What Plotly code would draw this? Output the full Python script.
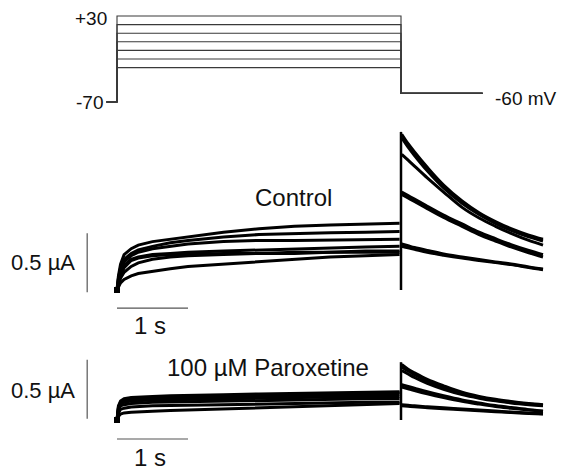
import plotly.graph_objects as go

# ---------------- data ----------------
# voltage protocol (mV)
step_levels = [30, 20, 10, 0, -10, -20, -30]
hold_v = -70
tail_v = -60
t_protocol = [-0.15, 0.0, 0.0, 4.0, 4.0, 5.15]

# current time base (s)
t_step = [0.0, 0.02, 0.05, 0.1, 0.2, 0.3, 0.5, 0.75, 1.0, 1.5, 2.0, 2.5, 3.0, 3.5, 3.98]
t_artifact = 4.0
t_tail = [4.01, 4.1, 4.19, 4.37, 4.6, 4.86, 5.1, 5.33, 5.55, 5.8, 6.0]
artifact_current = 0.0

# Control currents (uA): step part and tail part
ctrl_step = [
    [0, 0.12, 0.22, 0.30, 0.35, 0.38, 0.41, 0.43, 0.45, 0.49, 0.52, 0.54, 0.55, 0.56, 0.565],
    [0, 0.10, 0.19, 0.26, 0.31, 0.34, 0.37, 0.40, 0.42, 0.45, 0.47, 0.48, 0.485, 0.49, 0.495],
    [0, 0.09, 0.17, 0.24, 0.29, 0.32, 0.35, 0.37, 0.39, 0.41, 0.42, 0.42, 0.425, 0.43, 0.43],
    [0, 0.07, 0.14, 0.21, 0.26, 0.28, 0.30, 0.31, 0.32, 0.33, 0.34, 0.35, 0.36, 0.365, 0.37],
    [0, 0.06, 0.12, 0.19, 0.25, 0.27, 0.29, 0.30, 0.30, 0.31, 0.31, 0.32, 0.32, 0.33, 0.33],
    [0, 0.05, 0.10, 0.15, 0.20, 0.23, 0.26, 0.28, 0.29, 0.30, 0.31, 0.31, 0.32, 0.32, 0.32],
    [0, 0.03, 0.06, 0.09, 0.12, 0.14, 0.16, 0.18, 0.20, 0.22, 0.24, 0.26, 0.28, 0.29, 0.30],
]
ctrl_tail = [
    [1.32, 1.24, 1.17, 1.04, 0.89, 0.755, 0.655, 0.58, 0.52, 0.465, 0.43],
    [1.29, 1.21, 1.14, 1.01, 0.865, 0.735, 0.64, 0.565, 0.505, 0.45, 0.415],
    [1.15, 1.10, 1.05, 0.95, 0.83, 0.70, 0.61, 0.54, 0.48, 0.42, 0.38],
    [0.83, 0.80, 0.77, 0.71, 0.635, 0.56, 0.49, 0.435, 0.385, 0.335, 0.30],
    [0.81, 0.78, 0.75, 0.69, 0.615, 0.54, 0.47, 0.415, 0.365, 0.315, 0.28],
    [0.39, 0.375, 0.36, 0.335, 0.305, 0.28, 0.258, 0.238, 0.22, 0.195, 0.178],
    [0.37, 0.357, 0.345, 0.32, 0.295, 0.27, 0.25, 0.232, 0.215, 0.19, 0.172],
]

# 100 uM Paroxetine currents (uA)
parox_step = [
    [0, 0.12, 0.16, 0.18, 0.19, 0.195, 0.20, 0.205, 0.21, 0.215, 0.22, 0.225, 0.23, 0.235, 0.24],
    [0, 0.11, 0.15, 0.17, 0.18, 0.185, 0.19, 0.195, 0.20, 0.205, 0.21, 0.215, 0.22, 0.225, 0.23],
    [0, 0.10, 0.14, 0.16, 0.17, 0.175, 0.18, 0.185, 0.19, 0.195, 0.20, 0.205, 0.21, 0.215, 0.22],
    [0, 0.09, 0.13, 0.15, 0.16, 0.165, 0.17, 0.172, 0.175, 0.18, 0.185, 0.19, 0.195, 0.20, 0.20],
    [0, 0.08, 0.12, 0.13, 0.14, 0.145, 0.15, 0.152, 0.155, 0.16, 0.165, 0.17, 0.175, 0.18, 0.18],
    [0, 0.06, 0.09, 0.10, 0.11, 0.115, 0.12, 0.122, 0.125, 0.13, 0.135, 0.14, 0.145, 0.15, 0.15],
    [0, 0.03, 0.05, 0.06, 0.065, 0.07, 0.075, 0.08, 0.085, 0.09, 0.10, 0.11, 0.12, 0.13, 0.14],
]
parox_tail = [
    [0.47, 0.43, 0.40, 0.345, 0.29, 0.235, 0.20, 0.175, 0.157, 0.14, 0.13],
    [0.45, 0.415, 0.385, 0.33, 0.275, 0.225, 0.192, 0.168, 0.15, 0.135, 0.125],
    [0.42, 0.39, 0.36, 0.31, 0.26, 0.215, 0.185, 0.162, 0.145, 0.13, 0.12],
    [0.30, 0.285, 0.27, 0.24, 0.205, 0.17, 0.145, 0.122, 0.105, 0.088, 0.077],
    [0.28, 0.265, 0.25, 0.222, 0.19, 0.158, 0.135, 0.115, 0.10, 0.084, 0.073],
    [0.13, 0.125, 0.12, 0.112, 0.103, 0.093, 0.084, 0.076, 0.068, 0.06, 0.054],
    [0.12, 0.116, 0.112, 0.104, 0.095, 0.086, 0.078, 0.07, 0.063, 0.056, 0.05],
]

# scale bars
bar_current = 0.5   # uA
bar_time = 1.0      # s

# ---------------- layout helpers ----------------
OFF = 8                       # default page margin around the plot div
PAGE_W, PAGE_H = 567, 473
W, H = PAGE_W - OFF, PAGE_H - OFF
X0_PX, PX_PER_S = 117 - OFF, 71
x_range = [(0 - X0_PX) / PX_PER_S, (W - X0_PX) / PX_PER_S]


def y_axis(top_px, bot_px, ref_px, ref_val, px_per_unit):
    # pixel arguments are page pixels
    val = lambda p: ref_val + (ref_px - p) / px_per_unit
    return dict(domain=[1 - (bot_px - OFF) / H, 1 - (top_px - OFF) / H],
                range=[val(bot_px), val(top_px)],
                visible=False, fixedrange=True)


ax_v = y_axis(OFF, 122, 16, 30, 0.86)      # voltage protocol
ax_c = y_axis(122, 345, 290, 0, 118)       # control
ax_p = y_axis(345, PAGE_H, 420, 0, 118)    # paroxetine

fig = go.Figure()

# voltage protocol
for v in step_levels:
    fig.add_trace(go.Scatter(
        x=t_protocol, y=[hold_v, hold_v, v, v, tail_v, tail_v],
        mode="lines", line=dict(color="#3a3a3a", width=1.1),
        yaxis="y3", hoverinfo="skip"))


def add_family(steps, tails, yax):
    for s, tl in zip(steps, tails):
        fig.add_trace(go.Scatter(
            x=t_step, y=s, mode="lines",
            line=dict(color="black", width=3), yaxis=yax, hoverinfo="skip"))
        fig.add_trace(go.Scatter(
            x=t_tail, y=tl, mode="lines",
            line=dict(color="black", width=3, shape="spline", smoothing=1.0),
            yaxis=yax, hoverinfo="skip"))
    peak = max(tl[0] for tl in tails)
    # capacitive artifact at the end of the step
    fig.add_trace(go.Scatter(
        x=[t_artifact, t_artifact], y=[artifact_current, peak + 0.02],
        mode="lines", line=dict(color="black", width=2.5),
        yaxis=yax, hoverinfo="skip"))
    fig.add_trace(go.Scatter(
        x=[t_step[0]], y=[steps[0][0]], mode="markers",
        marker=dict(symbol="square", size=6, color="black"),
        yaxis=yax, hoverinfo="skip"))


add_family(ctrl_step, ctrl_tail, "y2")
add_family(parox_step, parox_tail, "y")

FAM = "Liberation Sans, Arial, sans-serif"
font_big = dict(family=FAM, size=24, color="#111")
font_bar = dict(family=FAM, size=22, color="#111")
font_small = dict(family=FAM, size=19, color="#111")

shapes = []
annotations = []

# voltage labels
annotations += [
    dict(x=-0.11, y=step_levels[0], xref="x", yref="y3", text="+30",
         showarrow=False, xanchor="right", yanchor="middle", yshift=-2,
         font=font_small),
    dict(x=-0.17, y=hold_v, xref="x", yref="y3", text="-70",
         showarrow=False, xanchor="right", yanchor="middle", font=font_small),
    dict(x=5.3, y=tail_v - 6, xref="x", yref="y3", text="-60 mV",
         showarrow=False, xanchor="left", yanchor="middle", font=font_small),
]


def scale_bars(yref, i_bar0, i_tbar, i_label, i_tlabel):
    shapes.append(dict(type="line", xref="x", yref=yref, x0=-0.42, x1=-0.42,
                       y0=i_bar0, y1=i_bar0 + bar_current,
                       line=dict(color="#555", width=1.2)))
    shapes.append(dict(type="line", xref="x", yref=yref, x0=0.0, x1=bar_time,
                       y0=i_tbar, y1=i_tbar, line=dict(color="#555", width=1.2)))
    annotations.append(dict(x=-0.56, y=i_label, xref="x", yref=yref,
                            text=f"{bar_current} \u00b5A", showarrow=False,
                            xanchor="right", yanchor="middle", font=font_bar))
    annotations.append(dict(x=bar_time * 0.46, y=i_tlabel, xref="x", yref=yref,
                            text=f"{bar_time:g} s", showarrow=False,
                            xanchor="center", yanchor="middle", font=font_big))


scale_bars("y2", -0.02, -0.153, 0.237, -0.30)
scale_bars("y", 0.01, -0.161, 0.254, -0.32)

annotations.append(dict(x=1.915, y=0.78, xref="x", yref="y2", text="Control",
                        showarrow=False, xanchor="left", yanchor="middle",
                        font=font_big))
annotations.append(dict(x=0.676, y=0.449, xref="x", yref="y",
                        text="100 \u00b5M Paroxetine", showarrow=False,
                        xanchor="left", yanchor="middle", font=font_big))

fig.update_layout(
    width=W, height=H, margin=dict(l=0, r=0, t=0, b=0),
    paper_bgcolor="white", plot_bgcolor="white", showlegend=False,
    xaxis=dict(range=x_range, visible=False, fixedrange=True),
    yaxis=ax_p, yaxis2=ax_c, yaxis3=ax_v,
    shapes=shapes, annotations=annotations,
)

fig.write_html("out.html", config={"displayModeBar": False})
